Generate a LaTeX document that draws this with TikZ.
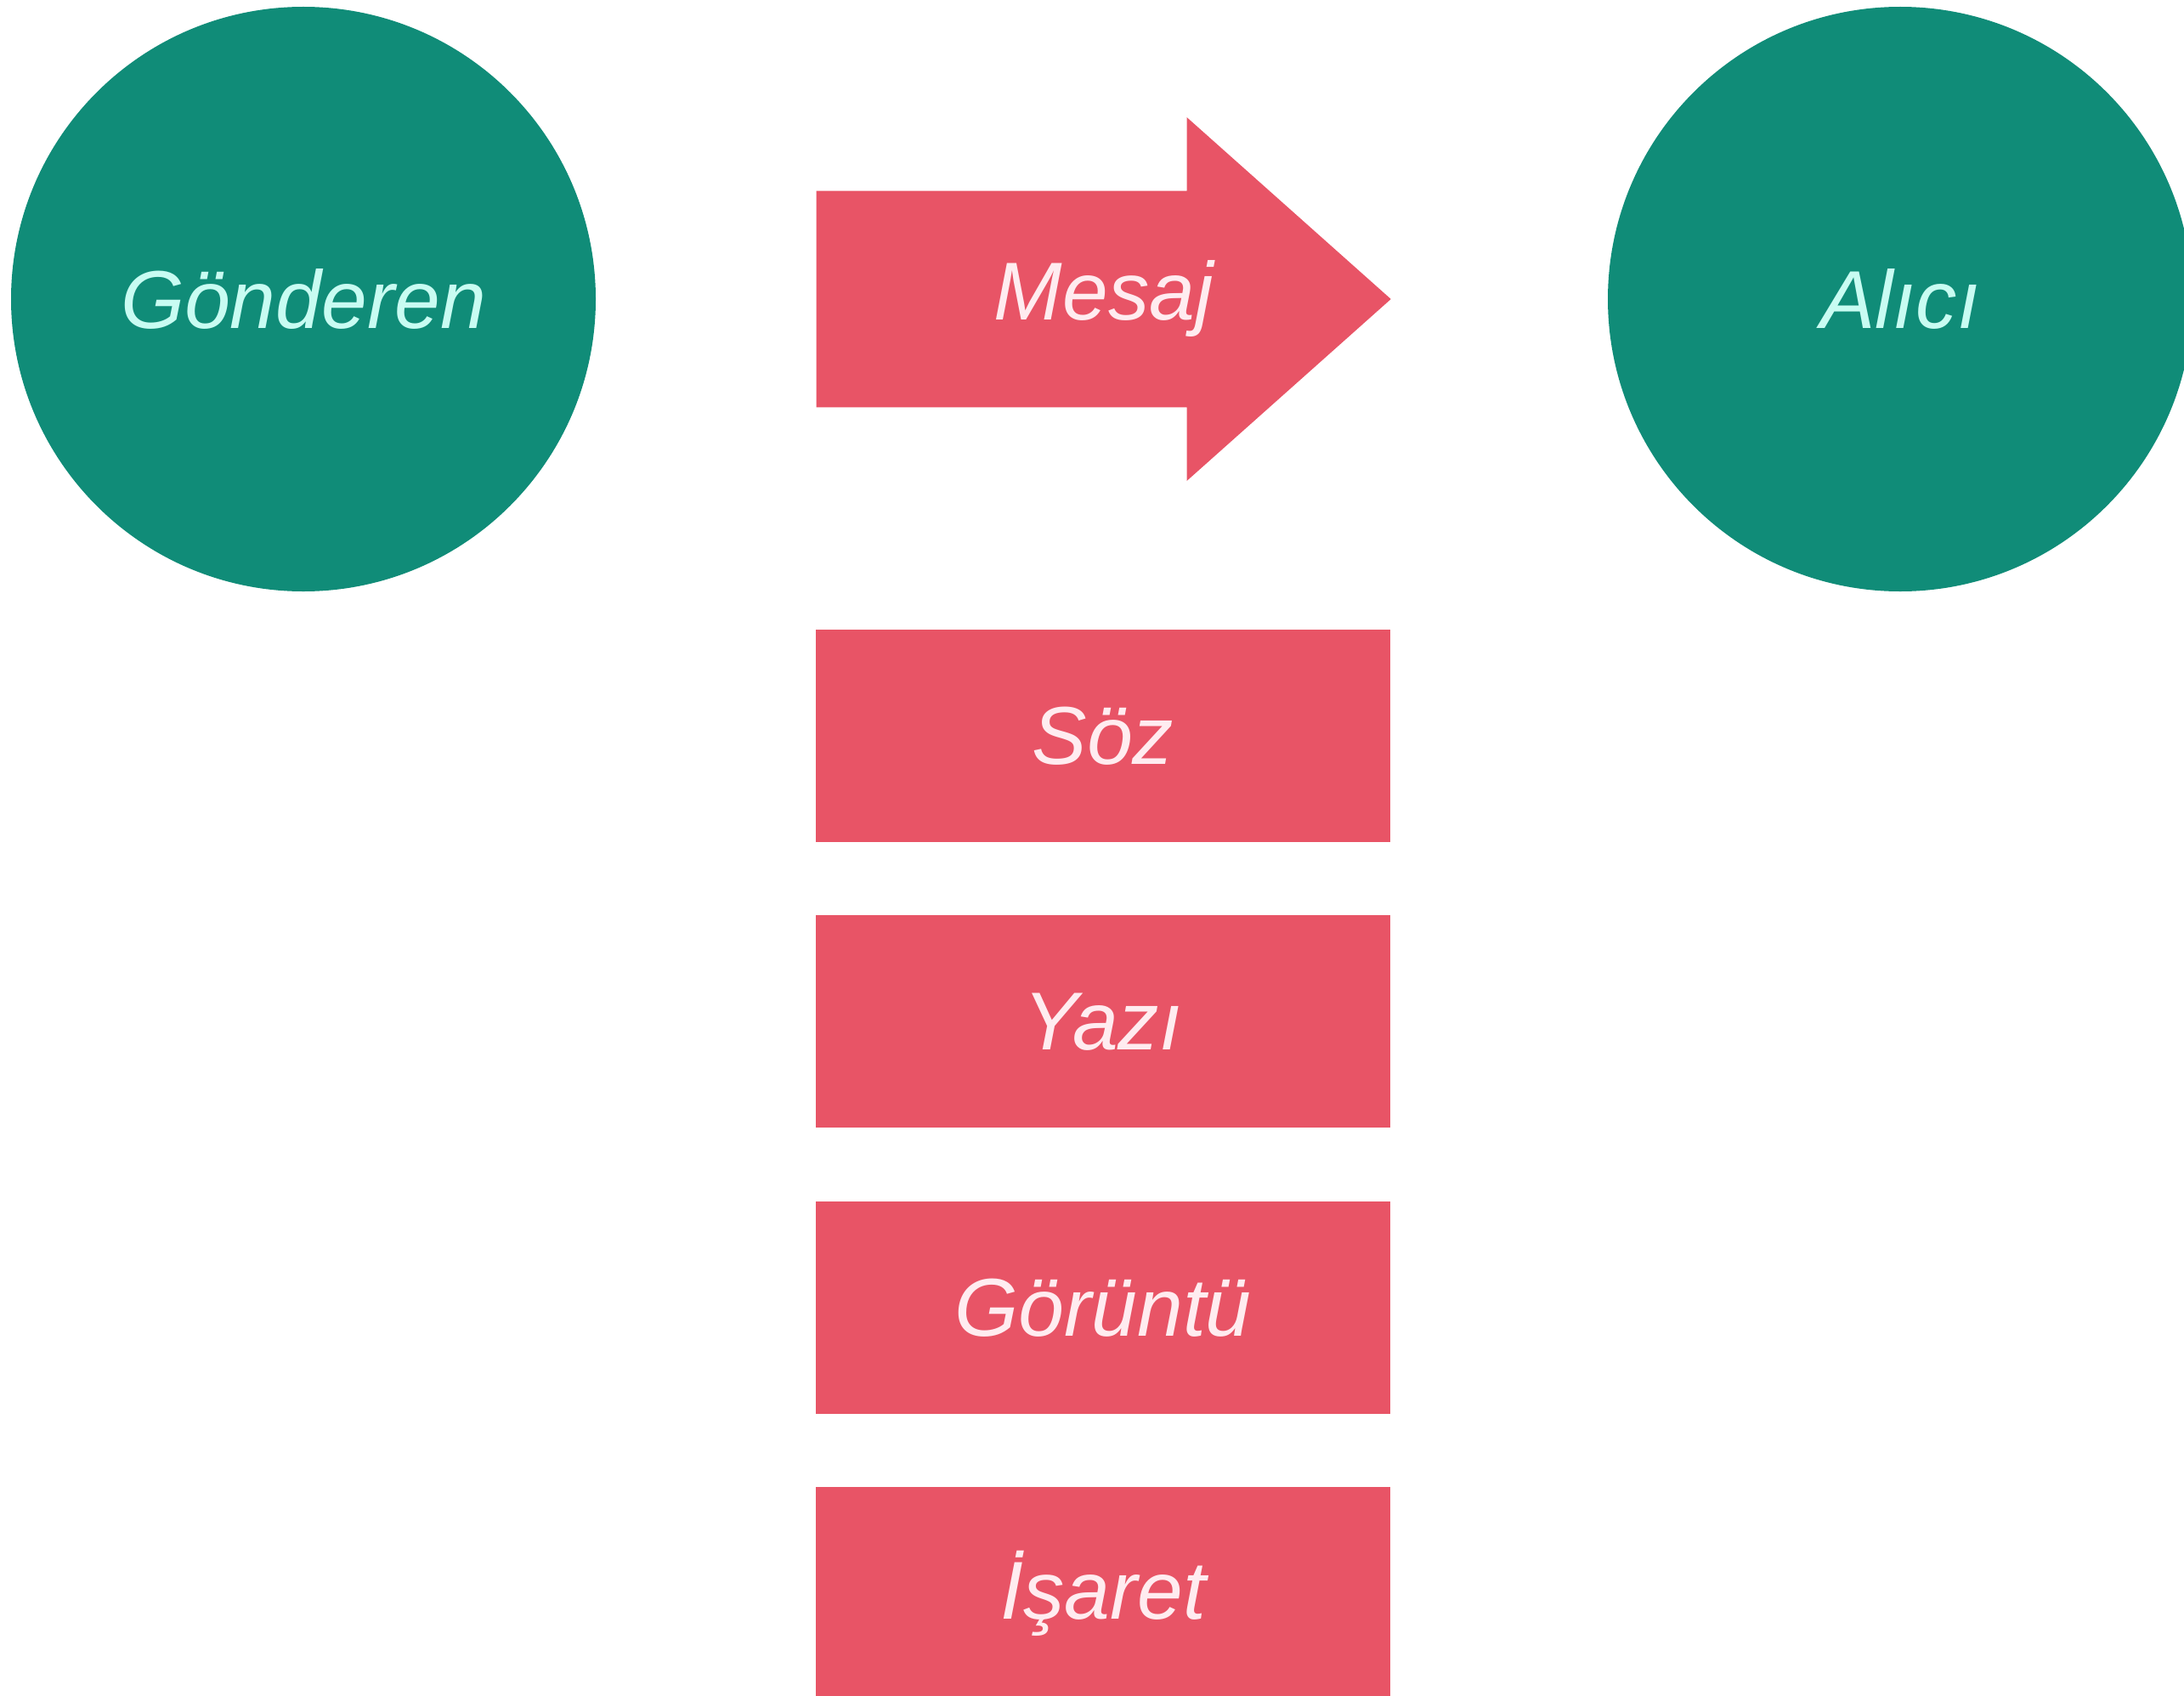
\documentclass[tikz,border=0pt]{standalone}
\usepackage{fontspec}
\setmainfont{Liberation Sans}
\usetikzlibrary{shapes.arrows,positioning,calc}
\definecolor{partygreen}{RGB}{16,140,120}
\definecolor{partytext}{RGB}{200,252,242}
\definecolor{channelred}{RGB}{232,84,102}
\definecolor{channeltext}{RGB}{255,236,240}

\begin{document}
\begin{tikzpicture}[
    every node/.style = {font=\fontsize{27.5}{33}\selectfont\itshape},
    party/.style = {circle, fill=partygreen, text=partytext,
      minimum size=6.88cm, inner sep=0pt},
    channel/.style = {rectangle, fill=channelred, text=channeltext,
      minimum width=6.76cm, minimum height=2.50cm, inner sep=0pt},
    message/.style = {single arrow, fill=channelred,
      text height=0.7cm, text depth=0.2cm, inner sep=0pt,
      minimum height=6.76cm, minimum width=4.28cm,
      single arrow head extend=0.311cm, single arrow tip angle=83.4},
    node distance=0.85cm]
  \useasboundingbox (0,0) rectangle (25.7,-19.95);

  \node [party] (sender) at (3.57,-3.52) {Gönderen};
  \node [party] (receiver) at (22.36,-3.52) {Alıcı};
  \node [message, anchor=tail] (msg) at (9.60,-3.52) {};
  \node [text=channeltext] (msgtext) at ($(msg.tail)!0.5!(msg.tip)$) {Mesaj};

  % kinds of message, stacked under the arrow
  \node [channel] (speech) at (12.98,-8.66) {Söz};
  \node [channel, below=of speech] (writing) {Yazı};
  \node [channel, below=of writing] (image) {Görüntü};
  \node [channel, below=of image] (sign) {İşaret};
\end{tikzpicture}
\end{document}
